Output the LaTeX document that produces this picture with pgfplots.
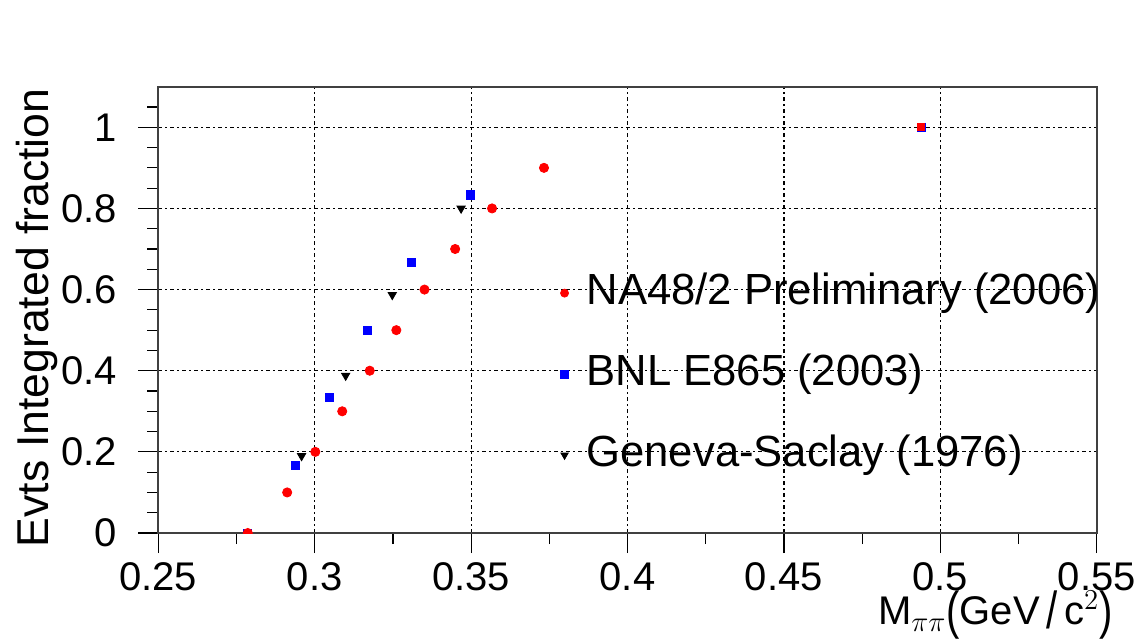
\documentclass[border=0pt]{standalone}
\usepackage{fontspec}
\setmainfont{Liberation Sans}
\usepackage{pgfplots}
\pgfplotsset{compat=1.18}
\begin{document}
\begin{tikzpicture}[x=1pt,y=1pt]
\path[use as bounding box] (0,0) rectangle (569,319.5);
\begin{axis}[
  at={(79.15pt,53pt)}, anchor=south west,
  scale only axis, width=469.2pt, height=223.15pt,
  xmin=0.25, xmax=0.55, ymin=0, ymax=1.1,
  font=\fontsize{20}{24}\selectfont,
  xtick={0.25,0.3,0.35,0.4,0.45,0.5,0.55},
  xticklabels={0.25,0.3,0.35,0.4,0.45,0.5,0.55},
  ytick={0,0.2,0.4,0.6,0.8,1},
  yticklabels={0,0.2,0.4,0.6,0.8,1},
  minor xtick={0.275,0.325,0.375,0.425,0.475,0.525},
  minor ytick={0.05,0.1,0.15,0.25,0.3,0.35,0.45,0.5,0.55,0.65,0.7,0.75,0.85,0.9,0.95,1.05},
  xtick pos=bottom, ytick pos=left,
  tick align=outside,
  major tick length=10pt, minor tick length=5.5pt,
  tick style={line width=0.6pt, black},
  axis line style={line width=0.85pt, black!75},
  grid=major,
  major grid style={line width=0.6pt, black, dash pattern=on 2pt off 1.5pt on 1pt off 1.5pt},
  xticklabel style={inner sep=0pt, anchor=north, yshift=-4.35pt},
  yticklabel style={inner sep=0pt, anchor=east, xshift=-10.5pt},
  ylabel={Evts Integrated fraction},
  ylabel style={at={(axis description cs:-0.1175,0.997)}, anchor=base east, inner sep=0pt, font=\fontsize{22.3}{26}\selectfont},
  xlabel={M$_{\pi\pi}$\raisebox{-2pt}{\scalebox{1}[1.3]{(}}GeV\,\raisebox{-2pt}{\scalebox{1}[1.3]{/}}\,c$^{2}$\raisebox{-2pt}{\scalebox{1}[1.3]{)}}},
  xlabel style={at={(axis description cs:1.0174,-0.206)}, anchor=base east, inner sep=0pt},
  clip marker paths=true,
  legend image code/.code={\draw[#1] plot coordinates {(0pt,0pt)};},
  legend style={draw=none, fill=none, inner sep=0pt, outer sep=0pt,
    at={(axis cs:0.3786,0.643)}, anchor=north west,
    column sep=9pt, row sep=19.5pt,
    font=\fontsize{21.8}{25}\selectfont,
    nodes={inner sep=0pt, text height=16pt, text depth=5pt}},
  legend cell align=left,
]
% legend images
\addlegendimage{only marks, mark=*, color=red, mark size=2pt}
\addlegendentry{NA48/2 Preliminary (2006)}
\addlegendimage{only marks, mark=square*, color=blue, mark size=1.9pt}
\addlegendentry{BNL E865 (2003)}
\addlegendimage{only marks, mark=triangle*, color=black, mark size=2.1pt, mark options={rotate=180}}
\addlegendentry{Geneva-Saclay (1976)}
% Geneva-Saclay (1976)
\addplot[only marks, mark=triangle*, color=black, mark size=2.4pt, mark options={rotate=180}, forget plot] coordinates {
(0.2958,0.19) (0.3099,0.388) (0.3248,0.587) (0.3468,0.80)
};
% BNL E865 (2003)
\addplot[only marks, mark=square*, color=blue, mark size=2.05pt, forget plot] coordinates {
(0.2786,0) (0.2939,0.1667) (0.3048,0.3333) (0.3169,0.5) (0.3308,0.6667) (0.3498,0.8333) (0.4939,1)
};
% NA48/2 Preliminary (2006)
\addplot[only marks, mark=*, color=red, mark size=2.3pt, forget plot] coordinates {
(0.2786,0) (0.2912,0.1) (0.3002,0.2) (0.3088,0.3) (0.3176,0.4) (0.3261,0.5) (0.3351,0.6) (0.3449,0.7) (0.3567,0.8) (0.3733,0.9)
};
\addplot[only marks, mark=square*, color=red, mark size=1.7pt, forget plot] coordinates {
(0.4939,1)
};
\end{axis}
\end{tikzpicture}
\end{document}
